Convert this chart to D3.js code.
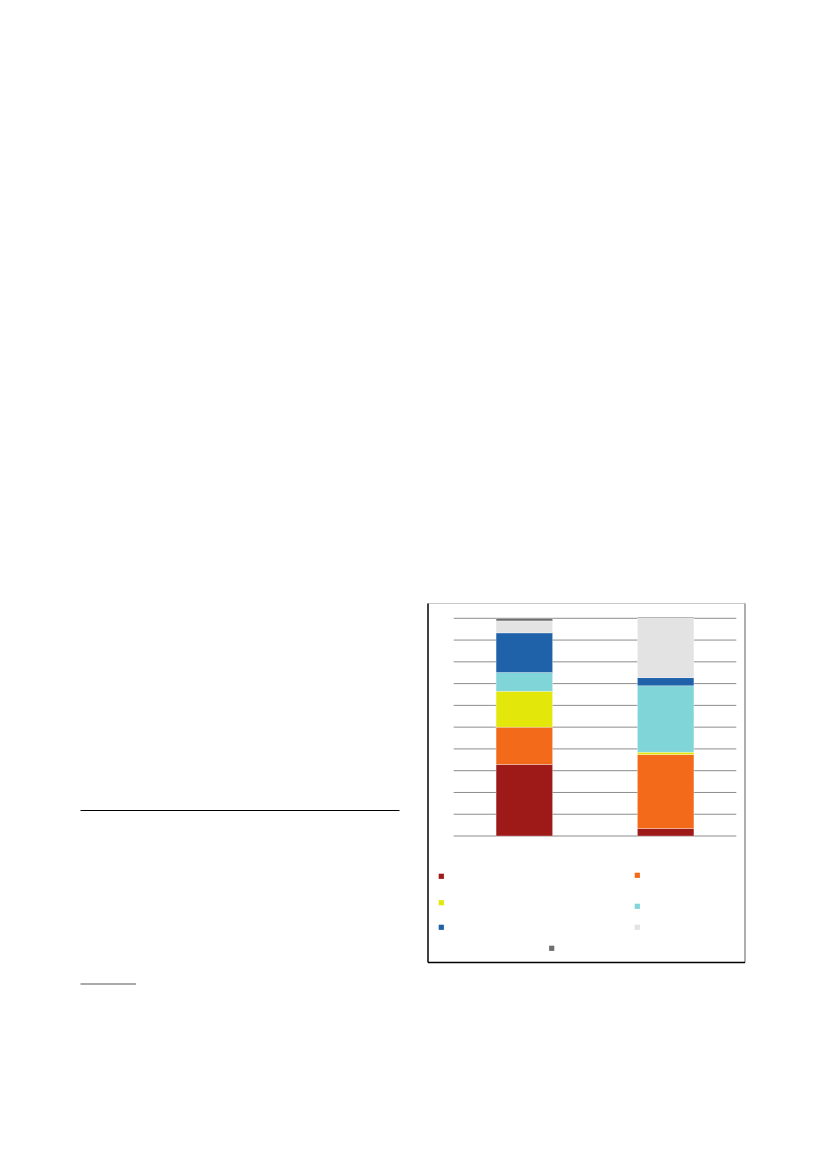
<!DOCTYPE html>
<html lang="en">
<head>
    <meta charset="UTF-8">
    <title>Stacked bars</title>
    <script src="https://d3js.org/d3.v7.min.js"></script>
    <style>
        body {
            margin: 0;
            padding: 0;
            background-color: #ffffff;
            font-family: "Liberation Sans", Arial, sans-serif;
        }
        svg {
            display: block;
        }
    </style>
</head>
<body>
    <svg width="827" height="1169"></svg>
    <script>
        // data (percent shares, bottom to top)
        const categories = ["A", "B"];
        const seriesNames = ["S1", "S2", "S3", "S4", "S5", "S6", "S7"];
        const seriesColors = ["#9e1a19", "#f36b1a", "#e3e80a", "#80d5d8", "#1f62aa", "#e3e3e3", "#6e6e6e"];
        const valuesA = [32.9, 17.1, 16.5, 8.6, 18.2, 5.5, 1.2];
        const valuesB = [3.4, 34.0, 1.1, 30.5, 3.7, 27.6, 0.3];
        const tickValues = [0, 10, 20, 30, 40, 50, 60, 70, 80, 90, 100];

        const svg = d3.select("svg");

        // page rules around the chart
        svg.append("line")
            .attr("x1", 80.5).attr("x2", 399.5)
            .attr("y1", 810.5).attr("y2", 810.5)
            .attr("stroke", "#000").attr("stroke-width", 1.2);
        svg.append("line")
            .attr("x1", 80.5).attr("x2", 136)
            .attr("y1", 984).attr("y2", 984)
            .attr("stroke", "#555").attr("stroke-width", 1.2);

        // chart frame
        const frame = { left: 428, top: 603.5, right: 745, bottom: 962.5 };
        svg.append("rect")
            .attr("x", frame.left).attr("y", frame.top)
            .attr("width", frame.right - frame.left)
            .attr("height", frame.bottom - frame.top)
            .attr("fill", "#fff");
        svg.append("line")
            .attr("x1", frame.left).attr("x2", frame.right)
            .attr("y1", frame.top).attr("y2", frame.top)
            .attr("stroke", "#c8c8c8").attr("stroke-width", 1.2);
        svg.append("line")
            .attr("x1", frame.right).attr("x2", frame.right)
            .attr("y1", frame.top).attr("y2", frame.bottom)
            .attr("stroke", "#777").attr("stroke-width", 1.2);
        svg.append("line")
            .attr("x1", frame.left).attr("x2", frame.left)
            .attr("y1", frame.top).attr("y2", frame.bottom)
            .attr("stroke", "#000").attr("stroke-width", 1.5);
        svg.append("line")
            .attr("x1", frame.left).attr("x2", frame.right)
            .attr("y1", frame.bottom).attr("y2", frame.bottom)
            .attr("stroke", "#000").attr("stroke-width", 1.5);

        const plot = { left: 453.7, right: 736.3, top: 618.3, bottom: 836 };

        const y = d3.scaleLinear()
            .domain([0, 100])
            .range([plot.bottom, plot.top]);

        const x = d3.scaleBand()
            .domain(categories)
            .range([plot.left, plot.right])
            .padding(0);

        // gridlines
        svg.append("g")
            .selectAll("line")
            .data(tickValues)
            .join("line")
            .attr("x1", plot.left)
            .attr("x2", plot.right)
            .attr("y1", d => y(d))
            .attr("y2", d => y(d))
            .attr("stroke", "#8c8c8c")
            .attr("stroke-width", 1);

        // stacked bars
        const rows = categories.map((c, i) => {
            const vals = i === 0 ? valuesA : valuesB;
            const row = { category: c };
            seriesNames.forEach((s, j) => row[s] = vals[j]);
            return row;
        });

        const stack = d3.stack().keys(seriesNames);
        const stacked = stack(rows);

        const barWidth = x.bandwidth() * 0.4;

        svg.append("g")
            .selectAll("g")
            .data(stacked)
            .join("g")
            .attr("fill", (d, i) => seriesColors[i])
            .selectAll("rect")
            .data(d => d)
            .join("rect")
            .attr("x", d => x(d.data.category) + (x.bandwidth() - barWidth) / 2)
            .attr("width", barWidth)
            .attr("y", d => y(d[1]))
            .attr("height", d => y(d[0]) - y(d[1]))
            .attr("stroke", "#ffffff")
            .attr("stroke-opacity", 0.5)
            .attr("stroke-width", 0.6);

        // legend markers (no visible labels in the source)
        const legendPos = [
            [441.3, 876.3], [637.3, 875.3],
            [441.3, 902.7], [637.3, 906.3],
            [441.3, 927.3], [637.3, 927.3],
            [551.7, 948.3]
        ];
        svg.append("g")
            .selectAll("rect")
            .data(seriesNames)
            .join("rect")
            .attr("x", (d, i) => legendPos[i][0] - 2.6)
            .attr("y", (d, i) => legendPos[i][1] - 2.6)
            .attr("width", 5.2)
            .attr("height", 5.2)
            .attr("fill", (d, i) => seriesColors[i]);
    </script>
</body>
</html>
